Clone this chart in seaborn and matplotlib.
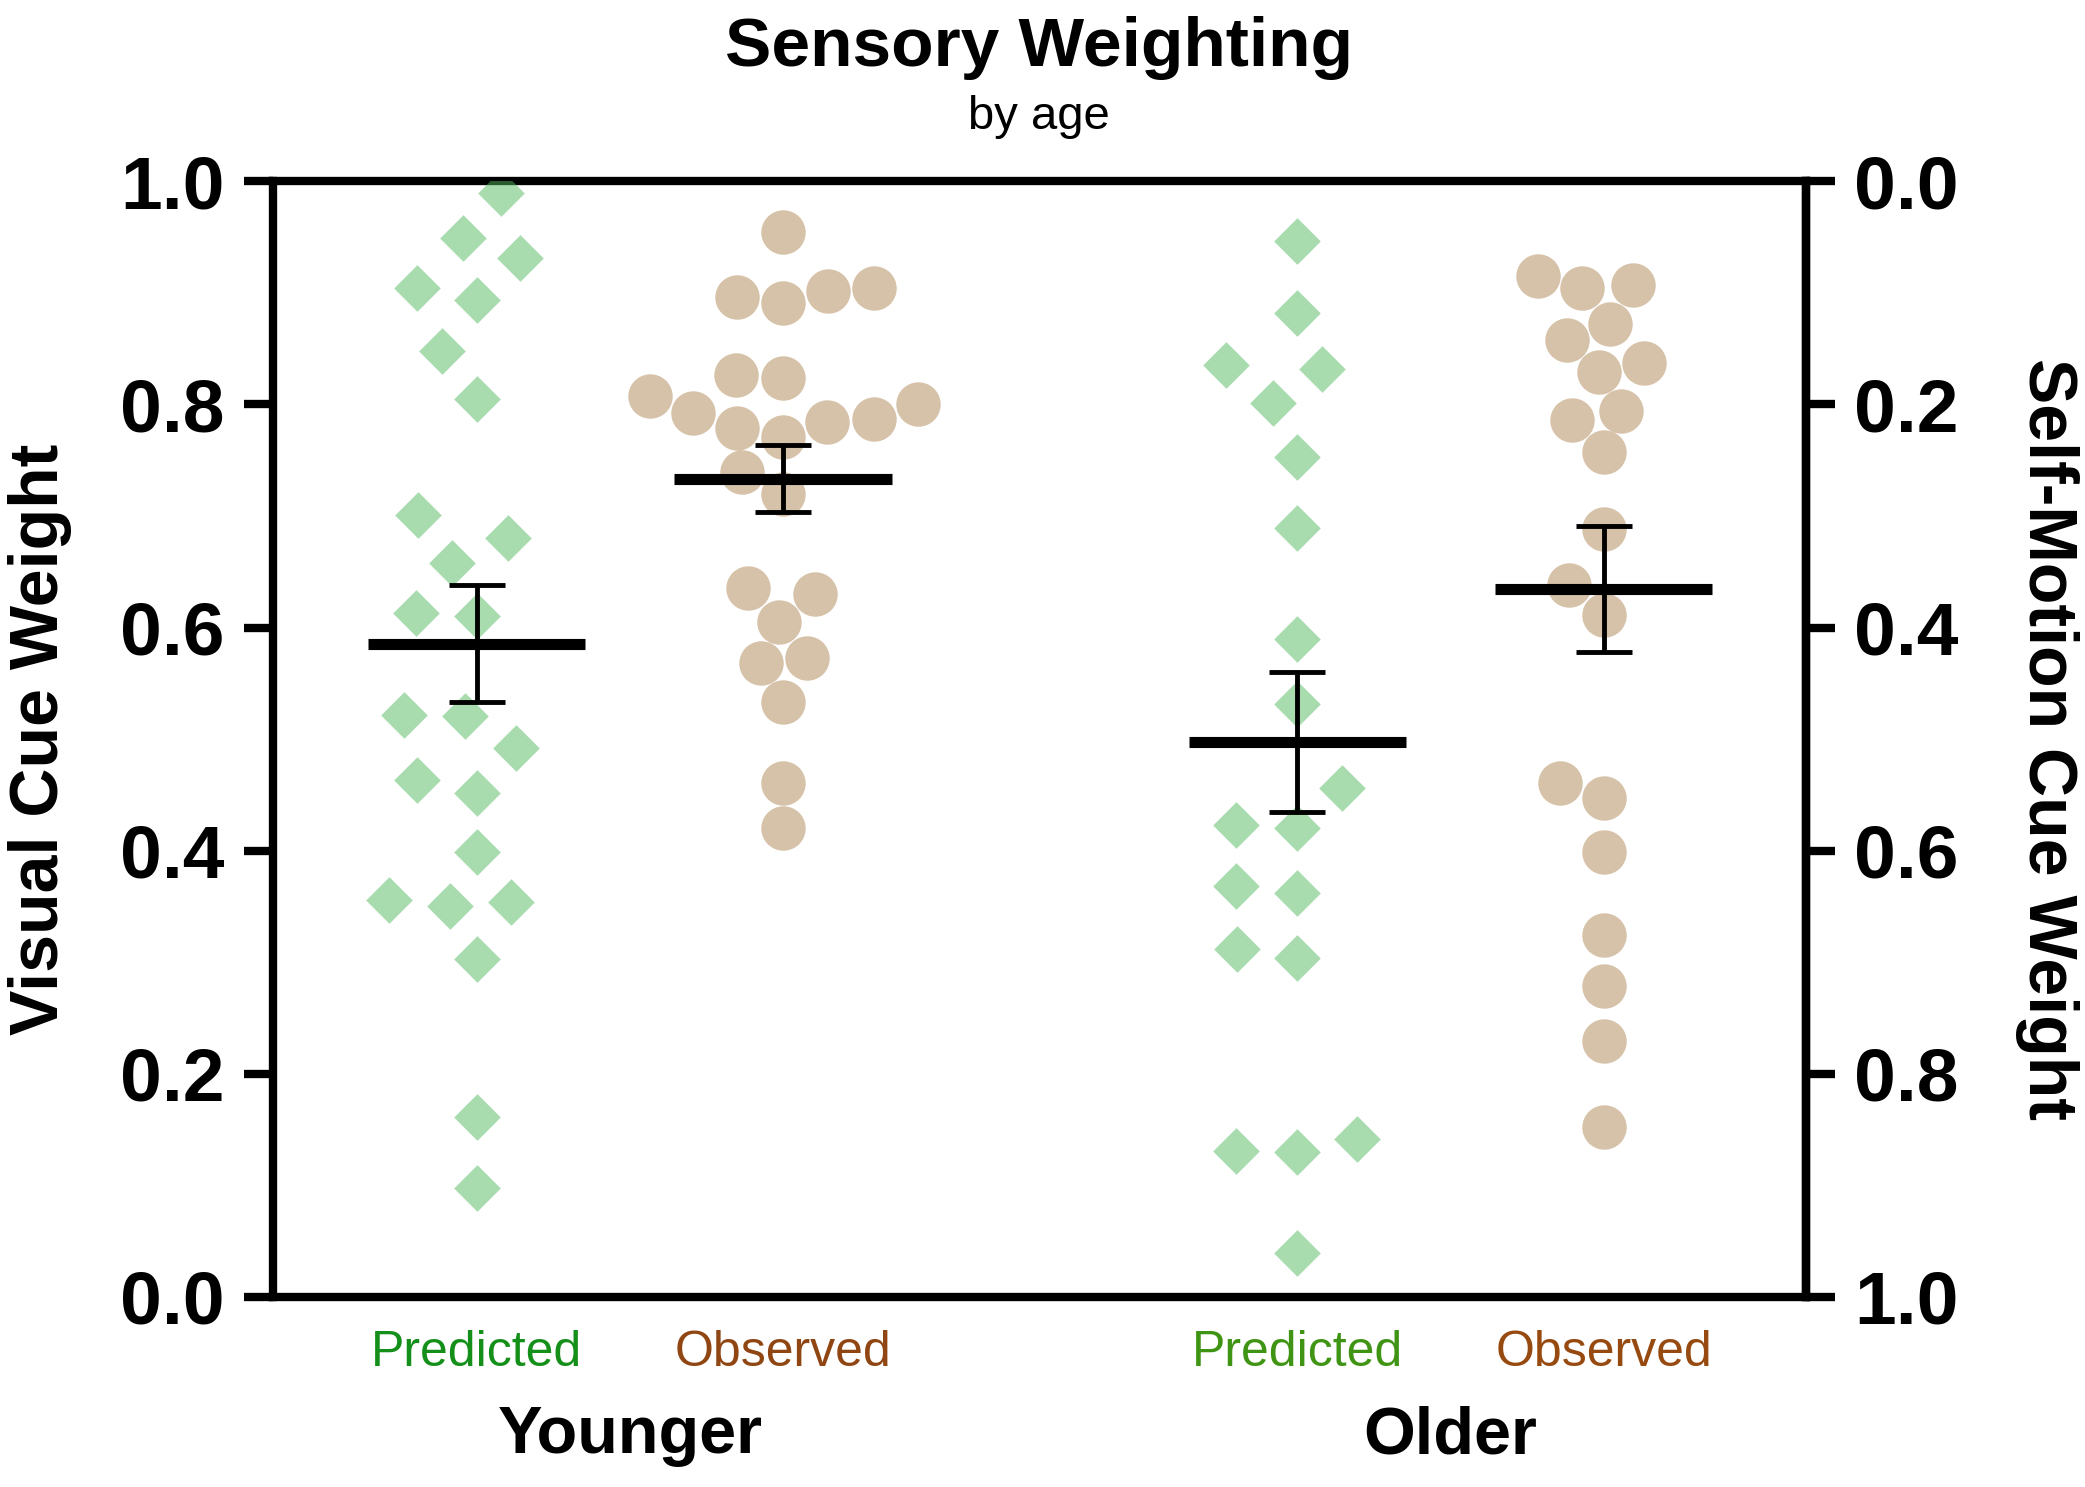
import numpy as np
import pandas as pd
import matplotlib
matplotlib.use("Agg")
from matplotlib import pyplot as plt
from matplotlib import transforms
from matplotlib.path import Path
from matplotlib.ticker import FormatStrFormatter
import seaborn as sns

# visual cue weight per subject
young_pred = [0.99, 0.949, 0.931, 0.904, 0.894, 0.848, 0.805, 0.701, 0.680, 0.658,
              0.610, 0.613, 0.521, 0.522, 0.492, 0.463, 0.452, 0.399, 0.356, 0.350,
              0.354, 0.303, 0.161, 0.097]
young_obs = [0.955, 0.891, 0.896, 0.904, 0.902, 0.826, 0.824, 0.808, 0.800, 0.784,
             0.779, 0.771, 0.787, 0.792, 0.739, 0.720, 0.635, 0.630, 0.605, 0.573,
             0.568, 0.533, 0.461, 0.420]
old_pred = [0.947, 0.882, 0.835, 0.832, 0.801, 0.753, 0.689, 0.590, 0.531, 0.456,
            0.420, 0.423, 0.362, 0.368, 0.304, 0.312, 0.141, 0.130, 0.131, 0.039]
old_obs = [0.904, 0.915, 0.907, 0.858, 0.872, 0.837, 0.829, 0.786, 0.794, 0.757,
           0.688, 0.638, 0.611, 0.461, 0.447, 0.399, 0.324, 0.279, 0.229, 0.152]

conditions = ["Predicted", "Observed", "Predicted", "Observed"]
groups = ["Younger", "Older"]
positions = [0.0, 1.0, 2.68, 3.68]
label_colors = ["#14901a", "#8f4612", "#3f9414", "#964a10"]
yticks = [0.0, 0.2, 0.4, 0.6, 0.8, 1.0]

sns.set_style("ticks")
plt.rcParams["font.family"] = ["Liberation Sans", "DejaVu Sans"]
plt.rcParams["text.color"] = "black"
plt.rcParams["xtick.color"] = "black"
plt.rcParams["ytick.color"] = "black"
plt.rcParams["axes.edgecolor"] = "black"

rows = []
for pos, cond, vals in zip(positions, conditions, [young_pred, young_obs, old_pred, old_obs]):
    for v in vals:
        rows.append({"pos": pos, "cond": cond, "weight": v})
df = pd.DataFrame(rows)

# diamond with an empty margin, so the swarm leaves gaps between columns like prism does
r = 0.8
diamond = Path([(1, 0), (0, r), (r, 0), (0, -r), (-r, 0), (0, r)],
               [Path.MOVETO, Path.MOVETO, Path.LINETO, Path.LINETO, Path.LINETO, Path.CLOSEPOLY])

fig = plt.figure(figsize=(20.85, 14.87), dpi=100)
ax = fig.add_axes([0.131, 0.128, 0.735, 0.750])

sns.swarmplot(data=df[df.cond == "Predicted"], x="pos", y="weight", native_scale=True,
              marker=diamond, size=42, color="#52bb60", alpha=0.5, linewidth=0, ax=ax)
sns.swarmplot(data=df[df.cond == "Observed"], x="pos", y="weight", native_scale=True,
              marker="o", size=32, color="#af8755", alpha=0.5, linewidth=0, ax=ax)

# mean +/- SEM
stats = df.groupby("pos")["weight"].agg(["mean", "sem"]).reset_index()
ax.hlines(stats["mean"], stats["pos"] - 0.355, stats["pos"] + 0.355,
          colors="black", linewidth=8, zorder=4)
ax.errorbar(stats["pos"], stats["mean"], yerr=stats["sem"], fmt="none",
            ecolor="black", elinewidth=3.5, capsize=20, capthick=3.5, zorder=4)

ax.set_xlim(-0.665, 4.34)
ax.set_ylim(0, 1)
ax.set_xlabel("")
ax.set_ylabel("")
ax.set_yticks(yticks)
ax.yaxis.set_major_formatter(FormatStrFormatter("%.1f"))
for side in ["left", "right", "top", "bottom"]:
    ax.spines[side].set_visible(True)
    ax.spines[side].set_linewidth(6)
    ax.spines[side].set_color("black")
ax.tick_params(axis="y", length=21, width=6, labelsize=54, pad=14, direction="out")
for lab in ax.get_yticklabels():
    lab.set_fontweight("bold")

ax.set_xticks(positions)
ax.set_xticklabels(conditions)
ax.tick_params(axis="x", length=0, pad=24, labelsize=36)
for lab, c in zip(ax.get_xticklabels(), label_colors):
    lab.set_color(c)

sec = ax.secondary_yaxis("right", functions=(lambda v: 1 - v, lambda v: 1 - v))
sec.set_yticks(yticks)
sec.yaxis.set_major_formatter(FormatStrFormatter("%.1f"))
sec.spines["right"].set_linewidth(6)
sec.spines["right"].set_color("black")
sec.tick_params(axis="y", length=21, width=6, labelsize=54, pad=14, direction="out")
for lab in sec.get_yticklabels():
    lab.set_fontweight("bold")

trans = transforms.blended_transform_factory(ax.transData, ax.transAxes)
for g, i in zip(groups, [0, 2]):
    ax.text((positions[i] + positions[i + 1]) / 2, -0.125, g, transform=trans,
            ha="center", va="center", fontsize=48, fontweight="bold")

fig.text(0.019, 0.503, "Visual Cue Weight", rotation=90, ha="center", va="center",
         fontsize=49, fontweight="bold")
fig.text(0.982, 0.503, "Self-Motion Cue Weight", rotation=270, ha="center", va="center",
         fontsize=49, fontweight="bold")
fig.text(0.4985, 0.968, "Sensory Weighting", ha="center", va="center",
         fontsize=50, fontweight="bold")
fig.text(0.4985, 0.921, "by age", ha="center", va="center", fontsize=34)

fig.savefig("out.png", dpi=100)
